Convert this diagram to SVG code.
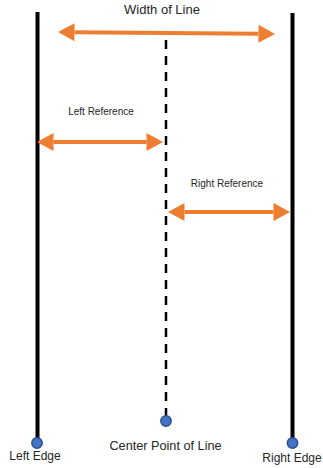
<svg xmlns="http://www.w3.org/2000/svg" width="323" height="468" viewBox="0 0 323 468">
<style>
.edge{stroke:#000;stroke-width:4;fill:none}
.center{stroke:#000;stroke-width:2.5;stroke-dasharray:9 7;fill:none}
.arrow{stroke:#ED7D31;stroke-width:4;fill:none;marker-start:url(#ah);marker-end:url(#ah)}
.dot{fill:#4472C4;stroke:#2F528F;stroke-width:1.5}
text{font-family:"Liberation Sans",Arial,sans-serif;fill:#262626;text-anchor:middle}
</style>
<defs>
<marker id="ah" markerUnits="userSpaceOnUse" markerWidth="18" markerHeight="18" refX="0" refY="8" orient="auto-start-reverse" overflow="visible">
<path d="M0,-1 L16.5,8 L0,17 z" fill="#ED7D31"/>
</marker>
</defs>
<rect width="323" height="468" fill="#fff"/>
<g id="left-edge">
<line class="edge" x1="37.5" y1="12" x2="37.5" y2="443"/>
<circle class="dot" cx="37" cy="443" r="5.2"/>
<text x="35" y="460" font-size="12">Left Edge</text>
</g>
<g id="right-edge">
<line class="edge" x1="292.5" y1="13" x2="292.5" y2="443"/>
<circle class="dot" cx="292.5" cy="443" r="5.2"/>
<text x="292" y="462" font-size="12">Right Edge</text>
</g>
<g id="center-line">
<line class="center" x1="166" y1="40" x2="166" y2="418"/>
<circle class="dot" cx="166" cy="421" r="5.2"/>
<text x="165.5" y="450" font-size="12.7">Center Point of Line</text>
</g>
<g id="labels">
<text x="162" y="14" font-size="13">Width of Line</text>
<text x="101" y="115" font-size="10">Left Reference</text>
<text x="227" y="187" font-size="10">Right Reference</text>
</g>
<g id="connectors">
<line class="arrow" x1="74.5" y1="32.2" x2="258.5" y2="33.8"/>
<line class="arrow" x1="53.5" y1="142" x2="146.5" y2="142"/>
<line class="arrow" x1="184.5" y1="212" x2="273.5" y2="212"/>
</g>
</svg>
